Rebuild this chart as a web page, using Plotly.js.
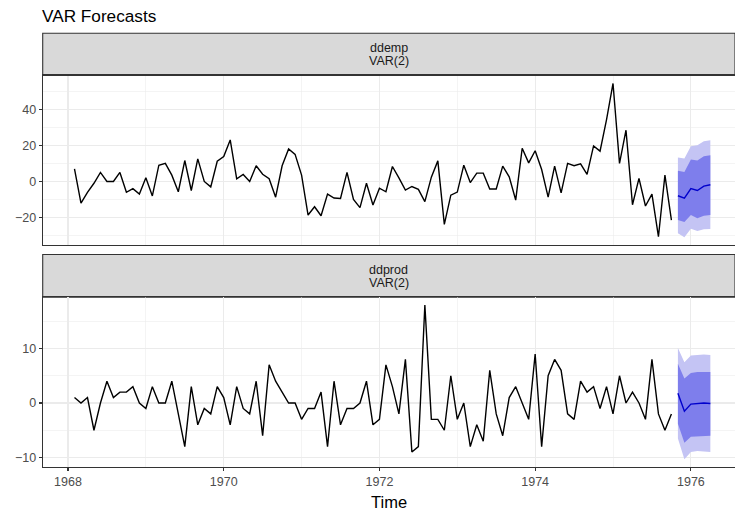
<!DOCTYPE html>
<html>
<head>
<meta charset="utf-8">
<script src="https://cdn.plot.ly/plotly-3.0.1.min.js"></script>
<style>html,body{margin:0;padding:0;background:#fff;}#chart{width:735px;height:516px;}</style>
</head>
<body>
<div id="chart"></div>
<script>
// ---- data (monthly, starting Feb 1968) ----
const startYear = 1968;
const startMonth = 2;
const ddemp = [7,-12,-6,-1,5,0,0,5,-6,-4,
  -7,2,-8,9,10,3.5,-5.7,11.6,-5,12.5,
  0,-3,11.2,13.8,23,1.5,3.9,0,8.7,4,
  1.5,-8.7,8.7,18,15,3.5,-18.6,-14,-19,-7,
  -9.2,-9.4,5,-10,-14.5,-1,-13,-3.7,-5.7,8.3,
  2,-4.8,-2.8,-4.4,-11.2,2.4,11.4,-23.8,-7.6,-5.9,
  9,-0.6,4.6,4.6,-4.2,-4.2,8.5,2.6,-10.3,18.4,
  10.3,17,6.6,-8.7,8.5,-6.3,10,8.7,9.8,3.9,
  19.7,16.8,34.3,54.3,10,28.4,-12.9,1.7,-13.6,-7,
  -30.6,3.5,-21.4];
const ddprod = [1,0,1,-5,0,4,1,2,2,3,
  0,-1,3,0,0,4,-2,-8,3,-4,
  -1,-2,3,1,-4,3,-1,-2,4,-6,
  7,4,2,0,0,-3,-1,-1,2,-8,
  4,-4,-1,-1,0,4,-4,-3,7,3,
  -2,8,-9,-8,18,-3,-3,-5,5,-3,
  0,-8,-4,-7,6,-2,-6,1,3,0,
  -3,9,-8,5,8,6,-2,-3,4,2,
  3,-1,3,-2,5,0,2,0,-3,8,
  -2,-5,-2];
// forecasts (6 months from Nov 1975)
const empMean = [-7.9,-9.2,-4,-5,-2.6,-1.8];
const empLo80 = [-21.4,-22.5,-18.6,-20.4,-19,-18.6];
const empHi80 = [5.9,5.3,12.2,11.6,14,14.5];
const empLo95 = [-28.7,-30.9,-26.2,-27.4,-26.5,-26.3];
const empHi95 = [13.3,12.7,19.5,20,22.3,22.8];
const prodMean = [1.8,-1.5,-0.2,-0.1,0,-0.1];
const prodLo80 = [-3.8,-7.3,-6.2,-6.1,-6,-6];
const prodHi80 = [7.2,4.5,5.5,5.7,5.7,5.7];
const prodLo95 = [-6.5,-10.3,-9,-8.8,-8.9,-9];
const prodHi95 = [10.1,7.5,8.7,8.8,8.9,8.8];
const panelNames = ["ddemp", "ddprod"];
const methodName = "VAR(2)";
const xTickVals = [1968, 1970, 1972, 1974, 1976];

// ---- time index ----
const t0 = startYear + (startMonth - 1) / 12;
const tHist = ddemp.map((_, i) => t0 + i / 12);
const tFc = empMean.map((_, i) => t0 + (ddemp.length + i) / 12);

const W = 735, H = 516;
const LIGHT = '#C4C4F4', DARK = '#7E7EEC', FCLINE = '#0000CC';
const xL = 42.7 / W, xR = 1;
const py = v => 1 - v / H;
// panel pixel boxes
const topStrip = [33.3, 75.5], topPanel = [75.5, 245];
const botStrip = [254.5, 297.3], botPanel = [297.3, 467.3];

function bandTraces(lo, hi, color, xa, ya) {
  return [
    {x: tFc, y: lo, type: 'scatter', mode: 'lines', line: {width: 0, color: color}, xaxis: xa, yaxis: ya, hoverinfo: 'skip', showlegend: false},
    {x: tFc, y: hi, type: 'scatter', mode: 'lines', line: {width: 0, color: color}, fill: 'tonexty', fillcolor: color, xaxis: xa, yaxis: ya, hoverinfo: 'skip', showlegend: false}
  ];
}

const traces = [
  {x: tHist, y: ddemp, type: 'scatter', mode: 'lines', line: {color: '#000', width: 1.4}, xaxis: 'x2', yaxis: 'y2', showlegend: false},
  ...bandTraces(empLo95, empHi95, LIGHT, 'x2', 'y2'),
  ...bandTraces(empLo80, empHi80, DARK, 'x2', 'y2'),
  {x: tFc, y: empMean, type: 'scatter', mode: 'lines', line: {color: FCLINE, width: 1.4}, xaxis: 'x2', yaxis: 'y2', showlegend: false},
  {x: tHist, y: ddprod, type: 'scatter', mode: 'lines', line: {color: '#000', width: 1.4}, xaxis: 'x', yaxis: 'y', showlegend: false},
  ...bandTraces(prodLo95, prodHi95, LIGHT, 'x', 'y'),
  ...bandTraces(prodLo80, prodHi80, DARK, 'x', 'y'),
  {x: tFc, y: prodMean, type: 'scatter', mode: 'lines', line: {color: FCLINE, width: 1.4}, xaxis: 'x', yaxis: 'y', showlegend: false}
];

const xRange = [1967.675, 1967.675 + (W - 42.7) / 77.86];
const tickFont = {family: 'Liberation Sans, Arial, sans-serif', size: 12.5, color: '#4D4D4D'};
const grid = {gridcolor: '#EBEBEB', gridwidth: 1.07};
const common = {showline: true, mirror: true, linecolor: '#333333', linewidth: 1.1, zeroline: false, ...grid, tickfont: tickFont, fixedrange: true};

const layout = {
  width: W, height: H,
  margin: {l: 0, r: 0, t: 0, b: 0},
  paper_bgcolor: '#fff', plot_bgcolor: '#fff',
  showlegend: false,
  font: {family: 'Liberation Sans, Arial, sans-serif'},
  title: {text: 'VAR Forecasts', x: 42 / W, xanchor: 'left', xref: 'container', y: 1 - 16 / H, yref: 'container', yanchor: 'middle', font: {size: 17.2, color: '#000'}},
  xaxis: {...common, domain: [xL, xR], range: xRange, anchor: 'y', tickmode: 'array', tickvals: xTickVals, ticks: 'outside', ticklen: 3, tickwidth: 1.1, tickcolor: '#333333',
    minor: {dtick: 1, tick0: 1967, showgrid: true, gridcolor: '#EBEBEB', gridwidth: 0.53}, automargin: false},
  xaxis2: {...common, domain: [xL, xR], range: xRange, anchor: 'y2', tickmode: 'array', tickvals: xTickVals, showticklabels: false, ticks: '',
    minor: {dtick: 1, tick0: 1967, showgrid: true, gridcolor: '#EBEBEB', gridwidth: 0.53}, matches: 'x'},
  yaxis: {...common, domain: [py(botPanel[1]), py(botPanel[0])], range: [-11.8, 19.4], anchor: 'x', dtick: 10, tick0: 0, ticks: 'outside', ticklen: 3, tickwidth: 1.1, tickcolor: '#333333',
    minor: {dtick: 5, tick0: 0, showgrid: true, gridcolor: '#EBEBEB', gridwidth: 0.53}, automargin: false},
  yaxis2: {...common, domain: [py(topPanel[1]), py(topPanel[0])], range: [-35.2, 58.7], anchor: 'x2', dtick: 20, tick0: 0, ticks: 'outside', ticklen: 3, tickwidth: 1.1, tickcolor: '#333333',
    minor: {dtick: 10, tick0: 0, showgrid: true, gridcolor: '#EBEBEB', gridwidth: 0.53}, automargin: false},
  shapes: [
    {type: 'rect', xref: 'paper', yref: 'paper', x0: xL, x1: xR, y0: py(topStrip[1]), y1: py(topStrip[0]), fillcolor: '#D9D9D9', line: {color: '#333333', width: 1.1}, layer: 'below'},
    {type: 'rect', xref: 'paper', yref: 'paper', x0: xL, x1: xR, y0: py(botStrip[1]), y1: py(botStrip[0]), fillcolor: '#D9D9D9', line: {color: '#333333', width: 1.1}, layer: 'below'}
  ],
  annotations: [
    {text: panelNames[0], xref: 'paper', yref: 'paper', x: (xL + xR) / 2, y: py(48), xanchor: 'center', yanchor: 'middle', showarrow: false, font: {size: 12.5, color: '#1A1A1A'}},
    {text: methodName, xref: 'paper', yref: 'paper', x: (xL + xR) / 2, y: py(61), xanchor: 'center', yanchor: 'middle', showarrow: false, font: {size: 12.5, color: '#1A1A1A'}},
    {text: panelNames[1], xref: 'paper', yref: 'paper', x: (xL + xR) / 2, y: py(269.5), xanchor: 'center', yanchor: 'middle', showarrow: false, font: {size: 12.5, color: '#1A1A1A'}},
    {text: methodName, xref: 'paper', yref: 'paper', x: (xL + xR) / 2, y: py(282.5), xanchor: 'center', yanchor: 'middle', showarrow: false, font: {size: 12.5, color: '#1A1A1A'}},
    {text: 'Time', xref: 'paper', yref: 'paper', x: (xL + xR) / 2, y: py(502), xanchor: 'center', yanchor: 'middle', showarrow: false, font: {size: 16.5, color: '#000'}}
  ]
};

Plotly.newPlot('chart', traces, layout, {displayModeBar: false, staticPlot: true});
</script>
</body>
</html>
